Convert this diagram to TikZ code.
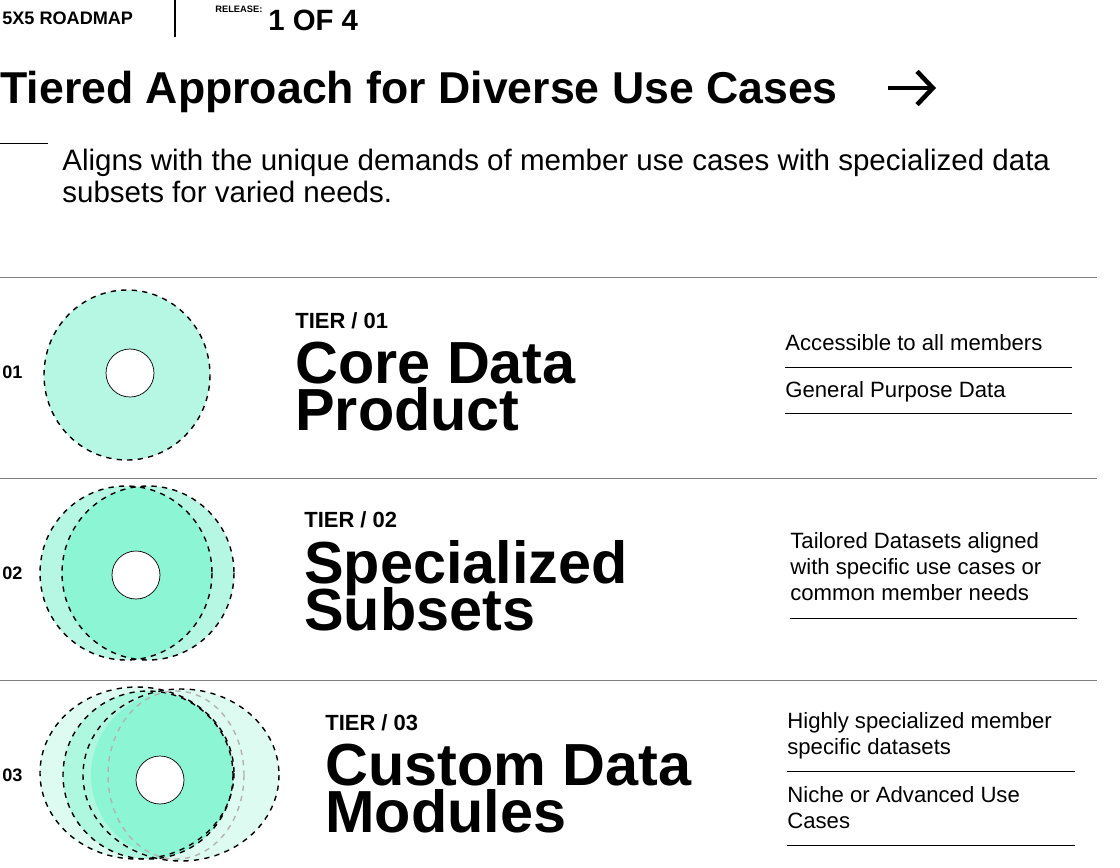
\documentclass[tikz,border=0pt]{standalone}
\usepackage{fontspec}
\setmainfont{Liberation Sans}
\usetikzlibrary{arrows.meta}
\definecolor{mintA}{HTML}{B5F7E2}
\definecolor{mintB}{HTML}{8CF5D3}
\definecolor{mintC}{HTML}{DDFBF1}
\definecolor{rulegray}{HTML}{808080}
\tikzset{ring/.style={draw=black, dashed, thick},
hole/.style={draw=black, fill=white},
sep/.style={draw=rulegray},
tag/.style={anchor=base west, inner sep=0pt, font=\bfseries\fontsize{10.3}{12}\selectfont},
tierlab/.style={anchor=base west, inner sep=0pt, font=\bfseries\fontsize{12.5}{14}\selectfont},
tiername/.style={anchor=base west, inner sep=0pt, font=\bfseries\fontsize{33.8}{26.6}\selectfont},
note/.style={anchor=base west, inner sep=0pt, font=\fontsize{12.6}{14.8}\selectfont, align=left}}
\begin{document}
\begin{tikzpicture}[x=0.02cm, y=-0.02cm]
\useasboundingbox (0,0) rectangle (1120,867);

% header
\node (brand) [tag] at (2,24) {5X5 ROADMAP};
\coordinate (bartop) at (175,0);
\coordinate (barbot) at (175,37);
\draw[thick] (bartop) -- (barbot);
\node (rel) [tag, font=\bfseries\fontsize{5.3}{6}\selectfont] at (215,12) {RELEASE:};
\node (count) [tag, font=\bfseries\fontsize{16.7}{18}\selectfont] at (268,30) {1 OF 4};
\node (title) [anchor=base west, inner sep=0pt, font=\bfseries\fontsize{25.4}{29}\selectfont] at (0,103) {Tiered Approach for Diverse Use Cases};
\coordinate (arrA) at (888,88);
\coordinate (arrB) at (936,88);
\draw[line width=2.6pt, -{Straight Barb[length=9pt,width=19pt,line width=2.6pt]}] (arrA) -- (arrB);
\coordinate (dashA) at (0,143);
\coordinate (dashB) at (48,143);
\draw (dashA) -- (dashB);
\node (intro) [note, font=\fontsize{16.8}{18.2}\selectfont] at (62,202) {Aligns with the unique demands of member use cases with specialized data\\subsets for varied needs.};

% separators
\foreach \y in {277,478,680} \draw[sep] (0,\y) -- (1097,\y);

% tier 1
\node (n1) [tag] at (2,378) {01};
\fill[mintA] (127,375) ellipse (83 and 85);
\draw[ring] (127,375) ellipse (83 and 85);
\node (hole1) [hole, circle, minimum size=48*0.02cm] at (130,373) {};
\node (t1) [tierlab] at (295,328) {TIER / 01};
\node (core1) [tiername] at (295,383) {Core Data};
\node (core2) [tiername] at (295,430) {Product};
\node (c1a) [note] at (785,350) {Accessible to all members};
\node (c1b) [note] at (785,397) {General Purpose Data};
\draw (785,367) -- (1072,367);
\draw (785,413) -- (1072,413);

% tier 2
\node (n2) [tag] at (2,579) {02};
\fill[mintA] (148,573) ellipse (86 and 87);
\fill[mintA] (126,573) ellipse (86 and 87);
\begin{scope}
\clip (148,573) ellipse (86 and 87);
\fill[mintB] (126,573) ellipse (86 and 87);
\end{scope}
\draw[ring] (148,573) ellipse (86 and 87);
\draw[ring] (126,573) ellipse (86 and 87);
\node (hole2) [hole, circle, minimum size=48*0.02cm] at (136,575) {};
\node (t2) [tierlab] at (304,527) {TIER / 02};
\node (spec1) [tiername] at (304,583) {Specialized};
\node (spec2) [tiername] at (304,630) {Subsets};
\node (c2a) [note] at (790,600) {Tailored Datasets aligned\\with specific use cases or\\common member needs};
\draw (790,618) -- (1077,618);

% tier 3
\node (n3) [tag] at (2,781) {03};
\fill[mintC] (137,773) ellipse (97 and 86);
\fill[mintC] (181,775) ellipse (98 and 86);
\fill[mintB!70!white] (148,775) ellipse (85 and 84);
\begin{scope}
\clip (148,775) ellipse (85 and 84);
\fill[mintB] (176,775) ellipse (85 and 84);
\end{scope}
\draw[ring] (137,773) ellipse (97 and 86);
\draw[ring] (181,775) ellipse (98 and 86);
\draw[ring] (148,775) ellipse (85 and 84);
\draw[ring, draw=black!30] (176,775) ellipse (68 and 84);
\node (hole3) [hole, circle, minimum size=48*0.02cm] at (160,780) {};
\node (t3) [tierlab] at (325,730) {TIER / 03};
\node (cust1) [tiername] at (325,785) {Custom Data};
\node (cust2) [tiername] at (325,832) {Modules};
\node (c3a) [note] at (787,754) {Highly specialized member\\specific datasets};
\node (c3b) [note] at (787,828) {Niche or Advanced Use\\Cases};
\draw (787,771) -- (1075,771);
\draw (787,845) -- (1075,845);
\end{tikzpicture}
\end{document}
